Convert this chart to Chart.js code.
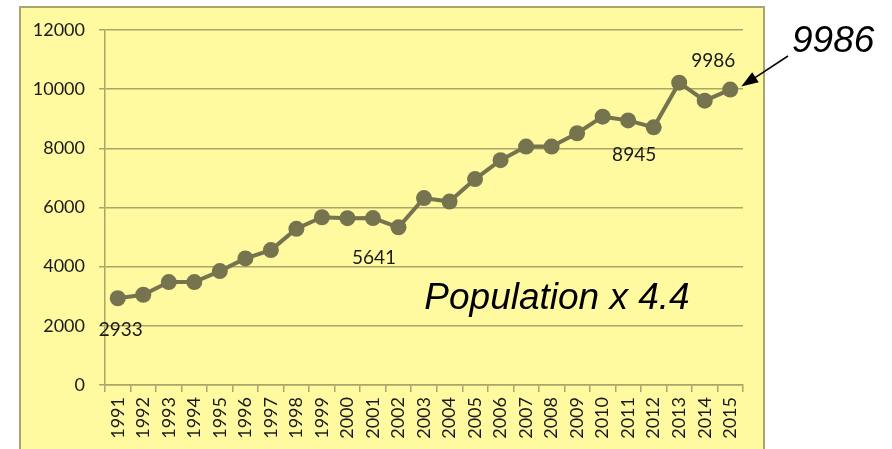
<!DOCTYPE html>
<html>
<head>
<meta charset="utf-8">
<script src="https://cdn.jsdelivr.net/npm/chart.js@4.4.0/dist/chart.umd.min.js"></script>
<style>
    html, body { margin: 0; padding: 0; background: #fff; }
    #wrap { width: 892px; height: 449px; position: relative; }
</style>
</head>
<body>
<div id="wrap"><canvas id="popChart" width="892" height="449"></canvas></div>
<script>
// Data
const years = ['1991','1992','1993','1994','1995','1996','1997','1998','1999','2000',
    '2001','2002','2003','2004','2005','2006','2007','2008','2009','2010',
    '2011','2012','2013','2014','2015'];
const population = [2933, 3050, 3480, 3480, 3850, 4280, 4560, 5280, 5670, 5640,
    5641, 5330, 6320, 6200, 6960, 7600, 8060, 8060, 8510, 9070,
    8945, 8710, 10220, 9610, 9986];
const yTicks = [0, 2000, 4000, 6000, 8000, 10000, 12000];

// Which points carry a value label, and where it sits relative to the point
const pointLabels = [
    { year: '1991', dx: 3, dy: 32 },
    { year: '2001', dx: 1, dy: 40 },
    { year: '2011', dx: 6, dy: 34 },
    { year: '2015', dx: -17, dy: -29 }
];

const olive = '#76734f';
const gridColor = '#aaa66a';
const panelColor = '#fff9a0';
const textFont = 'Lato, "Open Sans", sans-serif';

// Yellow panel behind the plot
const panelPlugin = {
    id: 'panel',
    beforeDraw(chart) {
        const ctx = chart.ctx;
        ctx.save();
        ctx.fillStyle = '#ffffff';
        ctx.fillRect(0, 0, chart.width, chart.height);
        ctx.fillStyle = panelColor;
        ctx.fillRect(20, 7, 744, 460);
        ctx.strokeStyle = '#a9a66c';
        ctx.lineWidth = 2;
        ctx.strokeRect(20, 7, 744, 460);
        ctx.restore();
    }
};

// Value labels, inner caption and the arrow callout
const notesPlugin = {
    id: 'notes',
    afterDatasetsDraw(chart) {
        const ctx = chart.ctx;
        const x = chart.scales.x;
        const y = chart.scales.y;
        ctx.save();
        ctx.fillStyle = '#1a1a1a';
        ctx.font = '19px ' + textFont;
        ctx.textAlign = 'center';
        ctx.textBaseline = 'middle';
        pointLabels.forEach(p => {
            const i = years.indexOf(p.year);
            const px = x.getPixelForValue(i);
            const py = y.getPixelForValue(population[i]);
            ctx.fillText(String(population[i]), px + p.dx, py + p.dy);
        });

        // Caption inside the plot
        ctx.font = 'italic 37px "Liberation Sans", Arial, sans-serif';
        ctx.fillStyle = '#000';
        ctx.textBaseline = 'alphabetic';
        ctx.fillText('Population x 4.4', 557, 309);

        // Callout at the last point
        const last = population.length - 1;
        const lx = x.getPixelForValue(last);
        const ly = y.getPixelForValue(population[last]);
        ctx.textAlign = 'left';
        ctx.fillText(String(population[last]), 792, 52);

        const tipX = lx + 11, tipY = ly - 3;
        const tailX = 788, tailY = 56;
        const ang = Math.atan2(tipY - tailY, tipX - tailX);
        ctx.strokeStyle = '#000';
        ctx.lineWidth = 1.5;
        ctx.beginPath();
        ctx.moveTo(tailX, tailY);
        ctx.lineTo(tipX - 12 * Math.cos(ang), tipY - 12 * Math.sin(ang));
        ctx.stroke();
        ctx.beginPath();
        ctx.moveTo(tipX, tipY);
        ctx.lineTo(tipX - 17 * Math.cos(ang) + 6 * Math.sin(ang), tipY - 17 * Math.sin(ang) - 6 * Math.cos(ang));
        ctx.lineTo(tipX - 17 * Math.cos(ang) - 6 * Math.sin(ang), tipY - 17 * Math.sin(ang) + 6 * Math.cos(ang));
        ctx.closePath();
        ctx.fill();
        ctx.restore();
    }
};

new Chart(document.getElementById('popChart'), {
    type: 'line',
    data: {
        labels: years,
        datasets: [{
            label: 'Population',
            data: population,
            borderColor: olive,
            backgroundColor: olive,
            borderWidth: 4,
            pointRadius: 8,
            pointBackgroundColor: olive,
            pointBorderWidth: 0,
            tension: 0
        }]
    },
    options: {
        responsive: false,
        animation: false,
        layout: { padding: { left: 0, right: 149, top: 30, bottom: 0 } },
        plugins: {
            legend: { display: false },
            tooltip: { enabled: false }
        },
        scales: {
            x: {
                offset: true,
                grid: {
                    offset: true,
                    drawOnChartArea: false,
                    color: gridColor,
                    tickLength: 7,
                    lineWidth: 1.5
                },
                border: { color: gridColor, width: 1.5 },
                ticks: {
                    color: '#1a1a1a',
                    font: { family: textFont, size: 18 },
                    minRotation: 90,
                    maxRotation: 90,
                    autoSkip: false,
                    padding: 5
                },
                afterFit: s => { s.height = 64; }
            },
            y: {
                min: 0,
                max: 12000,
                afterBuildTicks: s => { s.ticks = yTicks.map(v => ({ value: v })); },
                grid: { color: gridColor, lineWidth: 1.5, tickLength: 6 },
                border: { color: gridColor, width: 1.5 },
                ticks: {
                    color: '#1a1a1a',
                    font: { family: textFont, size: 18 },
                    padding: 14,
                    callback: v => String(v)
                },
                afterFit: s => { s.width = 105; }
            }
        }
    },
    plugins: [panelPlugin, notesPlugin]
});
</script>
</body>
</html>
